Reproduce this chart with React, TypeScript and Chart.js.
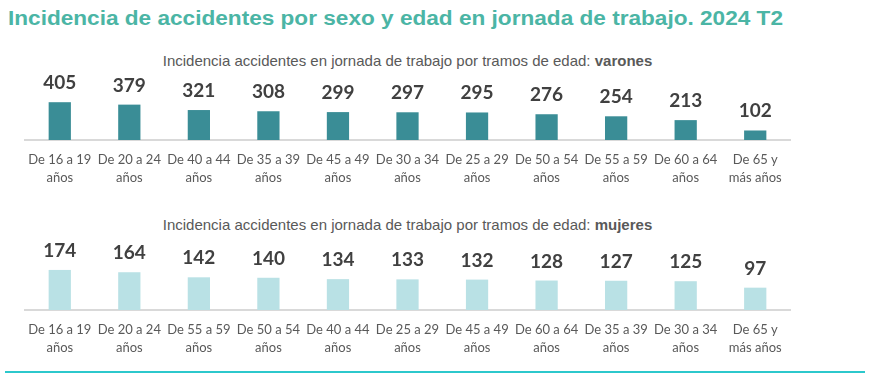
import React, { useEffect, useRef } from "react";
import { Chart, registerables } from "chart.js";

Chart.register(...registerables);

const TITLE = "Incidencia de accidentes por sexo y edad en jornada de trabajo. 2024 T2";
const SUBTITLE_PREFIX = "Incidencia accidentes en jornada de trabajo por tramos de edad: ";

const menCategories = [
  ["De 16 a 19", "años"],
  ["De 20 a 24", "años"],
  ["De 40 a 44", "años"],
  ["De 35 a 39", "años"],
  ["De 45 a 49", "años"],
  ["De 30 a 34", "años"],
  ["De 25 a 29", "años"],
  ["De 50 a 54", "años"],
  ["De 55 a 59", "años"],
  ["De 60 a 64", "años"],
  ["De 65 y", "más años"],
];
const menValues = [405, 379, 321, 308, 299, 297, 295, 276, 254, 213, 102];

const womenCategories = [
  ["De 16 a 19", "años"],
  ["De 20 a 24", "años"],
  ["De 55 a 59", "años"],
  ["De 50 a 54", "años"],
  ["De 40 a 44", "años"],
  ["De 25 a 29", "años"],
  ["De 45 a 49", "años"],
  ["De 60 a 64", "años"],
  ["De 35 a 39", "años"],
  ["De 30 a 34", "años"],
  ["De 65 y", "más años"],
];
const womenValues = [174, 164, 142, 140, 134, 133, 132, 128, 127, 125, 97];

const valueLabelPlugin = {
  id: "valueLabels",
  afterDatasetsDraw(chart: any) {
    const ctx = chart.ctx;
    const meta = chart.getDatasetMeta(0);
    const data = chart.data.datasets[0].data;
    ctx.save();
    ctx.font = "bold 19px Lato";
    ctx.fillStyle = "#404040";
    ctx.textAlign = "center";
    ctx.textBaseline = "alphabetic";
    meta.data.forEach((bar: any, i: number) => {
      ctx.fillText(String(data[i]), bar.x, bar.y - 13);
    });
    ctx.restore();
  },
};

function BarPanel({ labels, values, color, max }: { labels: string[][]; values: number[]; color: string; max: number }) {
  const ref = useRef<HTMLCanvasElement>(null);
  useEffect(() => {
    const chart = new Chart(ref.current!, {
      type: "bar",
      data: {
        labels,
        datasets: [{ data: values, backgroundColor: color, barPercentage: 0.32, categoryPercentage: 1 }],
      },
      options: {
        animation: false,
        responsive: false,
        maintainAspectRatio: false,
        layout: { padding: { left: 25, right: 81, top: 20, bottom: 0 } },
        plugins: { legend: { display: false }, tooltip: { enabled: false }, title: { display: false } },
        scales: {
          y: { display: false, min: 0, max },
          x: {
            grid: { display: false, drawTicks: false },
            border: { display: true, color: "#D9D9D9", width: 2 },
            ticks: {
              color: "#595959",
              font: { family: "Lato", size: 13, lineHeight: 1.4 },
              padding: 11,
              maxRotation: 0,
              autoSkip: false,
            },
            afterFit: (axis: any) => {
              axis.height = 55;
            },
          },
        },
      },
      plugins: [valueLabelPlugin],
    });
    return () => chart.destroy();
  }, []);
  return <canvas ref={ref} width={871} height={145} style={{ display: "block", width: 871, height: 145 }} />;
}

export default function App() {
  const subStyle: React.CSSProperties = {
    position: "absolute",
    left: 25,
    width: 765,
    textAlign: "center",
    fontFamily: "'Liberation Sans', Arial, sans-serif",
    fontSize: 15,
    color: "#595959",
    lineHeight: "18px",
    whiteSpace: "nowrap",
  };
  return (
    <div style={{ position: "fixed", left: 0, top: 0, width: 871, height: 380, background: "#fff", overflow: "hidden" }}>
      <div
        style={{
          position: "absolute",
          left: 8,
          top: 6,
          fontFamily: "'Liberation Sans', Arial, sans-serif",
          fontWeight: "bold",
          fontSize: 20,
          color: "#4BB5A5",
          whiteSpace: "nowrap",
          lineHeight: "24px",
          transform: "scaleX(1.13)",
          transformOrigin: "left center",
        }}
      >
        {TITLE}
      </div>
      <div style={{ ...subStyle, top: 52 }}>
        {SUBTITLE_PREFIX}
        <b>varones</b>
      </div>
      <div style={{ position: "absolute", left: 0, top: 50 }}>
        <BarPanel labels={menCategories} values={menValues} color="#3A8D96" max={750} />
      </div>
      <div style={{ ...subStyle, top: 216 }}>
        {SUBTITLE_PREFIX}
        <b>mujeres</b>
      </div>
      <div style={{ position: "absolute", left: 0, top: 220 }}>
        <BarPanel labels={womenCategories} values={womenValues} color="#B9E1E5" max={304} />
      </div>
      <div style={{ position: "absolute", left: 5, top: 371, width: 860, height: 2, background: "#2CC8CC" }} />
    </div>
  );
}
